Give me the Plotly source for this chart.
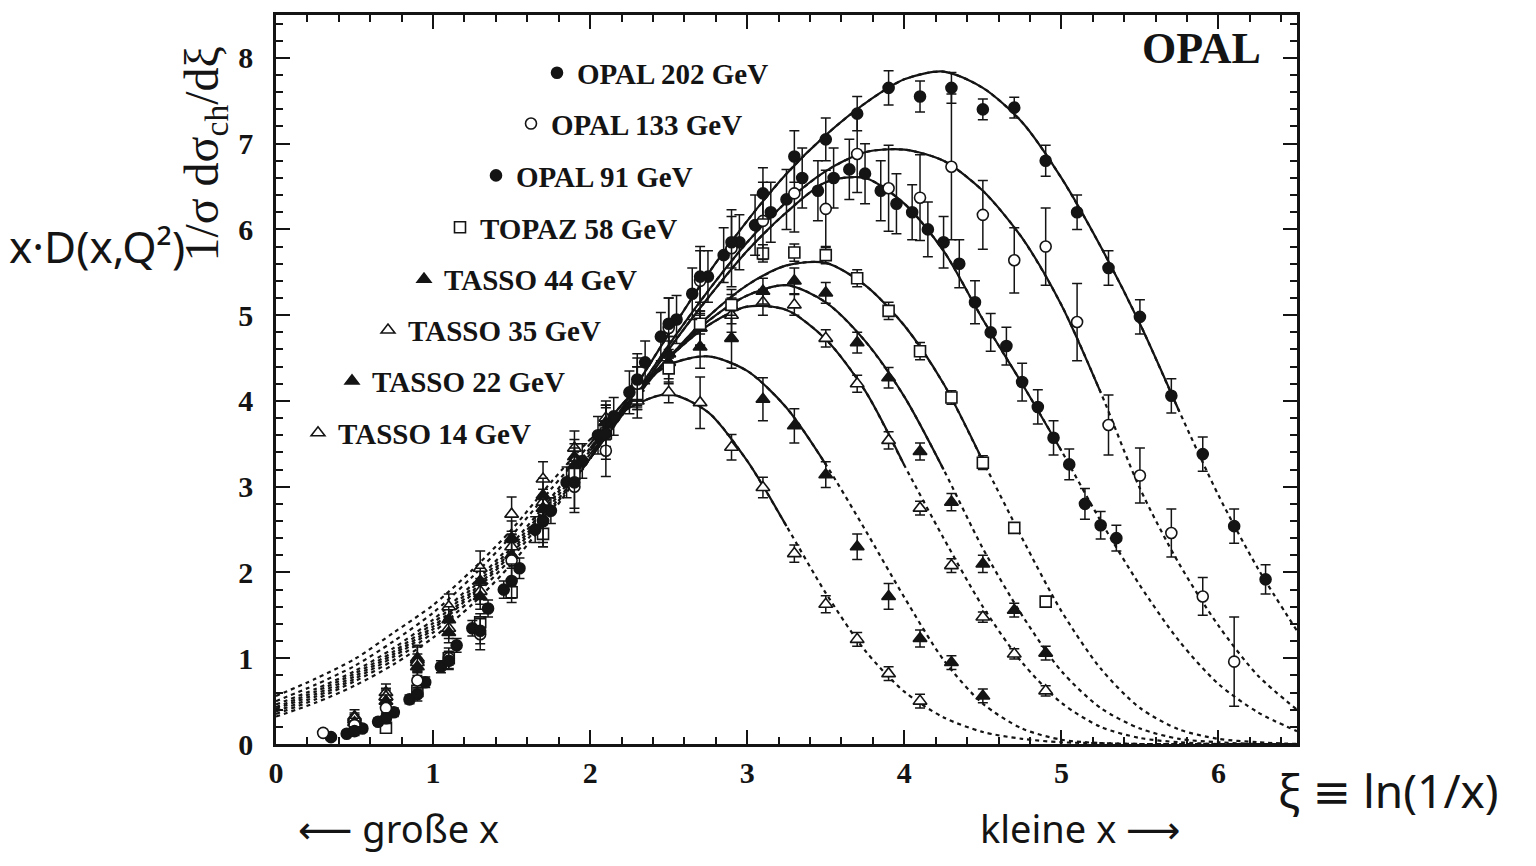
import plotly.graph_objects as go

# ---------------- data ----------------
XI_GRID = [0.0, 0.25, 0.5, 0.75, 1.0, 1.25, 1.5, 1.75, 2.0, 2.25, 2.5, 2.75, 3.0, 3.25,
           3.5, 3.75, 4.0, 4.25, 4.5, 4.75, 5.0, 5.25, 5.5, 5.75, 6.0, 6.25, 6.5]

CURVE_14 = [0.56, 0.76, 0.99, 1.30, 1.62, 2.03, 2.50, 3.05, 3.55, 3.92, 4.08, 3.87, 3.30, 2.54,
            1.76, 1.09, 0.61, 0.31, 0.14, 0.06, 0.02, 0.01, 0.0, 0.0, 0.0, 0.0, 0.0]
CURVE_22 = [0.50, 0.69, 0.91, 1.20, 1.53, 1.95, 2.43, 2.97, 3.50, 4.05, 4.42, 4.52, 4.35, 3.92,
            3.26, 2.50, 1.71, 0.98, 0.47, 0.18, 0.05, 0.01, 0.0, 0.0, 0.0, 0.0, 0.0]
CURVE_35 = [0.46, 0.64, 0.85, 1.12, 1.45, 1.86, 2.33, 2.87, 3.45, 4.00, 4.50, 4.88, 5.10, 5.06,
            4.72, 4.12, 3.25, 2.40, 1.60, 0.95, 0.48, 0.20, 0.07, 0.02, 0.0, 0.0, 0.0]
CURVE_44 = [0.43, 0.61, 0.82, 1.08, 1.41, 1.82, 2.29, 2.83, 3.42, 3.98, 4.50, 4.93, 5.23, 5.35,
            5.15, 4.70, 4.05, 3.20, 2.28, 1.50, 0.85, 0.42, 0.18, 0.06, 0.02, 0.0, 0.0]
CURVE_58 = [0.41, 0.58, 0.79, 1.05, 1.37, 1.78, 2.25, 2.79, 3.38, 3.95, 4.50, 4.98, 5.35, 5.58,
            5.61, 5.35, 4.88, 4.20, 3.30, 2.40, 1.55, 0.88, 0.42, 0.17, 0.06, 0.02, 0.0]
CURVE_91 = [0.38, 0.55, 0.76, 1.02, 1.34, 1.75, 2.22, 2.75, 3.33, 3.95, 4.60, 5.20, 5.75, 6.20,
            6.55, 6.60, 6.30, 5.75, 4.95, 4.20, 3.42, 2.60, 1.85, 1.20, 0.70, 0.37, 0.15]
CURVE_133 = [0.35, 0.52, 0.73, 0.98, 1.30, 1.70, 2.17, 2.72, 3.33, 3.98, 4.65, 5.28, 5.85, 6.32,
             6.68, 6.90, 6.93, 6.80, 6.45, 5.90, 5.12, 4.10, 2.98, 2.10, 1.38, 0.80, 0.40]
CURVE_202 = [0.32, 0.48, 0.68, 0.93, 1.24, 1.63, 2.10, 2.68, 3.33, 4.05, 4.78, 5.48, 6.10, 6.65,
             7.10, 7.47, 7.75, 7.84, 7.65, 7.25, 6.60, 5.80, 4.90, 3.88, 2.90, 2.05, 1.32]

# fit range (solid part) for each curve
FIT_START = [2.0, 2.0, 2.0, 2.0, 2.0, 2.0, 2.0, 2.0]
FIT_END = [3.25, 3.5, 4.0, 4.25, 4.5, 5.0, 5.25, 5.75]

XI_202 = [0.5, 0.7, 0.9, 1.1, 1.3, 1.5, 1.7, 1.9, 2.1, 2.3, 2.5, 2.7, 2.9, 3.1, 3.3, 3.5, 3.7,
          3.9, 4.1, 4.3, 4.5, 4.7, 4.9, 5.1, 5.3, 5.5, 5.7, 5.9, 6.1, 6.3]
V_202 = [0.15, 0.30, 0.58, 0.97, 1.32, 1.90, 2.60, 3.05, 3.62, 4.25, 4.90, 5.45, 5.85, 6.42,
         6.85, 7.05, 7.35, 7.65, 7.55, 7.65, 7.40, 7.42, 6.80, 6.20, 5.55, 4.98, 4.06, 3.38,
         2.54, 1.92]
E_202 = [0.05, 0.06, 0.08, 0.10, 0.15, 0.20, 0.25, 0.30, 0.30, 0.30, 0.30, 0.30, 0.30, 0.30,
         0.30, 0.25, 0.20, 0.20, 0.18, 0.18, 0.12, 0.12, 0.18, 0.20, 0.20, 0.20, 0.20, 0.20,
         0.20, 0.17]

XI_133 = [0.3, 0.5, 0.7, 0.9, 1.1, 1.3, 1.5, 1.7, 1.9, 2.1, 2.3, 2.5, 2.7, 2.9, 3.1, 3.3, 3.5,
          3.7, 3.9, 4.1, 4.3, 4.5, 4.7, 4.9, 5.1, 5.3, 5.5, 5.7, 5.9, 6.1]
V_133 = [0.13, 0.22, 0.42, 0.74, 1.00, 1.28, 2.14, 2.60, 3.00, 3.42, 4.20, 4.85, 5.40, 5.78,
         6.10, 6.42, 6.24, 6.88, 6.48, 6.37, 6.73, 6.17, 5.64, 5.80, 4.92, 3.72, 3.13, 2.46,
         1.72, 0.96]
E_133 = [0.04, 0.05, 0.07, 0.10, 0.12, 0.18, 0.30, 0.30, 0.30, 0.30, 0.30, 0.35, 0.40, 0.45,
         0.45, 0.45, 0.45, 0.45, 0.50, 0.50, 0.85, 0.40, 0.38, 0.45, 0.45, 0.35, 0.32, 0.28,
         0.22, 0.52]

XI_91 = [0.35, 0.45, 0.55, 0.65, 0.75, 0.85, 0.95, 1.05, 1.15, 1.25, 1.35, 1.45, 1.55, 1.65,
         1.75, 1.85, 1.95, 2.05, 2.15, 2.25, 2.35, 2.45, 2.55, 2.65, 2.75, 2.85, 2.95, 3.05,
         3.15, 3.25, 3.35, 3.45, 3.55, 3.65, 3.75, 3.85, 3.95, 4.05, 4.15, 4.25, 4.35, 4.45,
         4.55, 4.65, 4.75, 4.85, 4.95, 5.05, 5.15, 5.25, 5.35]
V_91 = [0.08, 0.12, 0.18, 0.26, 0.37, 0.52, 0.72, 0.90, 1.15, 1.35, 1.58, 1.80, 2.05, 2.50,
        2.72, 3.05, 3.30, 3.60, 3.82, 4.10, 4.45, 4.75, 4.95, 5.25, 5.45, 5.70, 5.85, 6.05,
        6.20, 6.35, 6.60, 6.45, 6.60, 6.70, 6.65, 6.45, 6.30, 6.20, 6.00, 5.85, 5.60, 5.15,
        4.80, 4.64, 4.22, 3.93, 3.57, 3.26, 2.80, 2.55, 2.40]
E_91 = [0.03, 0.03, 0.04, 0.04, 0.05, 0.05, 0.06, 0.07, 0.08, 0.09, 0.10, 0.10, 0.12, 0.15,
        0.15, 0.18, 0.20, 0.22, 0.22, 0.25, 0.25, 0.28, 0.28, 0.30, 0.30, 0.32, 0.32, 0.35,
        0.35, 0.35, 0.35, 0.35, 0.35, 0.35, 0.35, 0.35, 0.35, 0.32, 0.32, 0.30, 0.28, 0.25,
        0.22, 0.22, 0.22, 0.20, 0.20, 0.18, 0.18, 0.16, 0.15]

XI_58 = [0.7, 0.9, 1.1, 1.3, 1.5, 1.7, 1.9, 2.1, 2.3, 2.5, 2.7, 2.9, 3.1, 3.3, 3.5, 3.7, 3.9,
         4.1, 4.3, 4.5, 4.7, 4.9]
V_58 = [0.19, 0.62, 1.00, 1.42, 1.77, 2.45, 3.15, 3.62, 4.08, 4.38, 4.90, 5.12, 5.72, 5.73,
        5.70, 5.43, 5.05, 4.58, 4.04, 3.28, 2.52, 1.66]
E_58 = [0.05, 0.06, 0.08, 0.10, 0.12, 0.15, 0.15, 0.15, 0.15, 0.12, 0.12, 0.12, 0.10, 0.10,
        0.10, 0.10, 0.10, 0.10, 0.08, 0.08, 0.06, 0.06]

XI_44 = [0.5, 0.7, 0.9, 1.1, 1.3, 1.5, 1.7, 1.9, 2.1, 2.3, 2.5, 2.7, 2.9, 3.1, 3.3, 3.5, 3.7,
         3.9, 4.1, 4.3, 4.5, 4.7, 4.9]
V_44 = [0.25, 0.50, 0.90, 1.30, 1.72, 2.20, 2.75, 3.25, 3.75, 4.20, 4.55, 4.85, 5.10, 5.28,
        5.40, 5.26, 4.68, 4.27, 3.41, 2.82, 2.10, 1.56, 1.06]
E_44 = [0.05, 0.07, 0.10, 0.12, 0.15, 0.15, 0.15, 0.20, 0.20, 0.20, 0.20, 0.20, 0.20, 0.15,
        0.15, 0.12, 0.12, 0.12, 0.10, 0.10, 0.10, 0.08, 0.08]

XI_35 = [0.5, 0.7, 0.9, 1.1, 1.3, 1.5, 1.7, 1.9, 2.1, 2.3, 2.5, 2.7, 2.9, 3.1, 3.3, 3.5, 3.7,
         3.9, 4.1, 4.3, 4.5, 4.7, 4.9]
V_35 = [0.30, 0.55, 0.95, 1.35, 1.78, 2.30, 2.82, 3.30, 3.80, 4.20, 4.55, 4.85, 5.00, 5.15,
        5.12, 4.73, 4.20, 3.54, 2.75, 2.08, 1.48, 1.05, 0.62]
E_35 = [0.06, 0.08, 0.10, 0.12, 0.15, 0.15, 0.15, 0.20, 0.20, 0.20, 0.20, 0.20, 0.20, 0.15,
        0.12, 0.10, 0.10, 0.10, 0.08, 0.08, 0.06, 0.06, 0.06]

XI_22 = [0.5, 0.7, 0.9, 1.1, 1.3, 1.5, 1.7, 1.9, 2.1, 2.3, 2.5, 2.7, 2.9, 3.1, 3.3, 3.5, 3.7,
         3.9, 4.1, 4.3, 4.5]
V_22 = [0.28, 0.55, 0.98, 1.45, 1.90, 2.40, 2.90, 3.35, 3.75, 4.15, 4.45, 4.63, 4.73, 4.02,
        3.71, 3.14, 2.30, 1.72, 1.23, 0.95, 0.56]
E_22 = [0.06, 0.10, 0.15, 0.15, 0.15, 0.20, 0.20, 0.20, 0.20, 0.25, 0.25, 0.25, 0.35, 0.25,
        0.20, 0.15, 0.15, 0.15, 0.10, 0.08, 0.08]

XI_14 = [0.5, 0.7, 0.9, 1.1, 1.3, 1.5, 1.7, 1.9, 2.1, 2.3, 2.5, 2.7, 2.9, 3.1, 3.3, 3.5, 3.7,
         3.9, 4.1]
V_14 = [0.32, 0.60, 1.00, 1.60, 2.05, 2.68, 3.09, 3.45, 3.75, 4.00, 4.10, 3.98, 3.46, 2.99,
        2.22, 1.63, 1.22, 0.82, 0.50]
E_14 = [0.08, 0.10, 0.15, 0.15, 0.20, 0.20, 0.20, 0.20, 0.20, 0.20, 0.12, 0.30, 0.15, 0.12,
        0.10, 0.10, 0.08, 0.08, 0.08]

LABELS = ["TASSO 14 GeV", "TASSO 22 GeV", "TASSO 35 GeV", "TASSO 44 GeV",
          "TOPAZ 58 GeV", "OPAL 91 GeV", "OPAL 133 GeV", "OPAL 202 GeV"]
X_TICKS = [0, 1, 2, 3, 4, 5, 6]
Y_TICKS = [0, 1, 2, 3, 4, 5, 6, 7, 8]

# ---------------- styling / layout helpers ----------------
W, H = 1536, 866
PL, PR, PT, PB = 276, 1297, 13, 744          # plot area in pixels


def paper_x(px):
    return (px - PL) / (PR - PL)


def paper_y(py):
    return (PB - py) / (PB - PT)


INK = "#141414"
SERIF = "Liberation Serif, Times New Roman, serif"
HAND = "Noto Sans, DejaVu Sans, sans-serif"

curves = [CURVE_14, CURVE_22, CURVE_35, CURVE_44, CURVE_58, CURVE_91, CURVE_133, CURVE_202]
series = [
    (XI_14, V_14, E_14, "triangle-up", "white"),
    (XI_22, V_22, E_22, "triangle-up", INK),
    (XI_35, V_35, E_35, "triangle-up", "white"),
    (XI_44, V_44, E_44, "triangle-up", INK),
    (XI_58, V_58, E_58, "square", "white"),
    (XI_91, V_91, E_91, "circle", INK),
    (XI_133, V_133, E_133, "circle", "white"),
    (XI_202, V_202, E_202, "circle", INK),
]
# legend marker centres (pixels) for the staircase legend
LEGEND_POS = [(318, 432), (352, 380), (388, 329), (424, 278),
              (460, 226), (496, 174), (531, 122), (557, 71)]

fig = go.Figure()

# fit curves: dotted over full range, solid over fit range
for i, cv in enumerate(curves):
    fig.add_trace(go.Scatter(
        x=XI_GRID, y=cv, mode="lines", showlegend=False, hoverinfo="skip",
        line=dict(color=INK, width=2.2, dash="4px,4px", shape="spline", smoothing=0.8)))
    xs = [x for x in XI_GRID if FIT_START[i] - 1e-9 <= x <= FIT_END[i] + 1e-9]
    ys = [cv[XI_GRID.index(x)] for x in xs]
    fig.add_trace(go.Scatter(
        x=xs, y=ys, mode="lines", showlegend=False, hoverinfo="skip",
        line=dict(color=INK, width=2.2, shape="spline", smoothing=0.8)))

# data points with error bars; each in its own legend for the staircase layout
legend_layouts = {}
for i, (xi, v, e, sym, fill) in enumerate(series):
    lname = "legend" if i == 0 else f"legend{i + 1}"
    size = 11 if sym != "triangle-up" else 12
    fig.add_trace(go.Scatter(
        x=xi, y=v, mode="markers", name=LABELS[i], legend=lname, showlegend=True,
        marker=dict(symbol=sym, size=size, color=fill, line=dict(color=INK, width=1.6)),
        error_y=dict(type="data", array=e, visible=True, color=INK, thickness=1.5, width=5),
        cliponaxis=True))
    mx, my = LEGEND_POS[i]
    legend_layouts[lname] = dict(
        x=paper_x(mx - 20), y=paper_y(my), xanchor="left", yanchor="middle",
        bgcolor="rgba(0,0,0,0)", borderwidth=0,
        font=dict(family=SERIF, size=29, color=INK, weight="bold"),
        itemclick=False, itemdoubleclick=False)

axis_common = dict(
    showline=True, linecolor=INK, linewidth=2.5, mirror="allticks",
    ticks="inside", ticklen=14, tickwidth=2, tickcolor=INK,
    showgrid=False, zeroline=False,
    tickfont=dict(family=SERIF, size=30, color=INK, weight="bold"),
    minor=dict(ticks="inside", ticklen=7, tickwidth=1.5, tickcolor=INK, dtick=0.2, showgrid=False),
)

fig.update_layout(
    width=W, height=H,
    margin=dict(l=PL, r=W - PR, t=PT, b=H - PB, pad=0),
    paper_bgcolor="white", plot_bgcolor="white",
    xaxis=dict(range=[0, 6.5], tickvals=X_TICKS, ticklabelstandoff=0, **axis_common),
    yaxis=dict(range=[0, 8.5], tickvals=Y_TICKS, ticklabelstandoff=14, **axis_common),
    **legend_layouts,
)

annotations = [
    dict(text="<b>OPAL</b>", x=paper_x(1201), y=paper_y(47),
         font=dict(family=SERIF, size=44, color=INK)),
    dict(text="1/σ dσ<sub>ch</sub>/dξ", x=paper_x(205), y=paper_y(152), textangle=-90,
         font=dict(family=SERIF, size=48, color=INK)),
    dict(text="x·D(x,Q²)", x=paper_x(97), y=paper_y(245),
         font=dict(family=HAND, size=44, color=INK)),
    dict(text="⟵ große x", x=paper_x(398), y=paper_y(828),
         font=dict(family=HAND, size=38, color=INK)),
    dict(text="kleine x ⟶", x=paper_x(1080), y=paper_y(828),
         font=dict(family=HAND, size=38, color=INK)),
    dict(text="ξ ≡ ln(1/x)", x=paper_x(1388), y=paper_y(790),
         font=dict(family=HAND, size=46, color=INK)),
]
for a in annotations:
    a.update(xref="paper", yref="paper", showarrow=False, xanchor="center", yanchor="middle")
fig.update_layout(annotations=annotations)

fig.write_html("out.html")
